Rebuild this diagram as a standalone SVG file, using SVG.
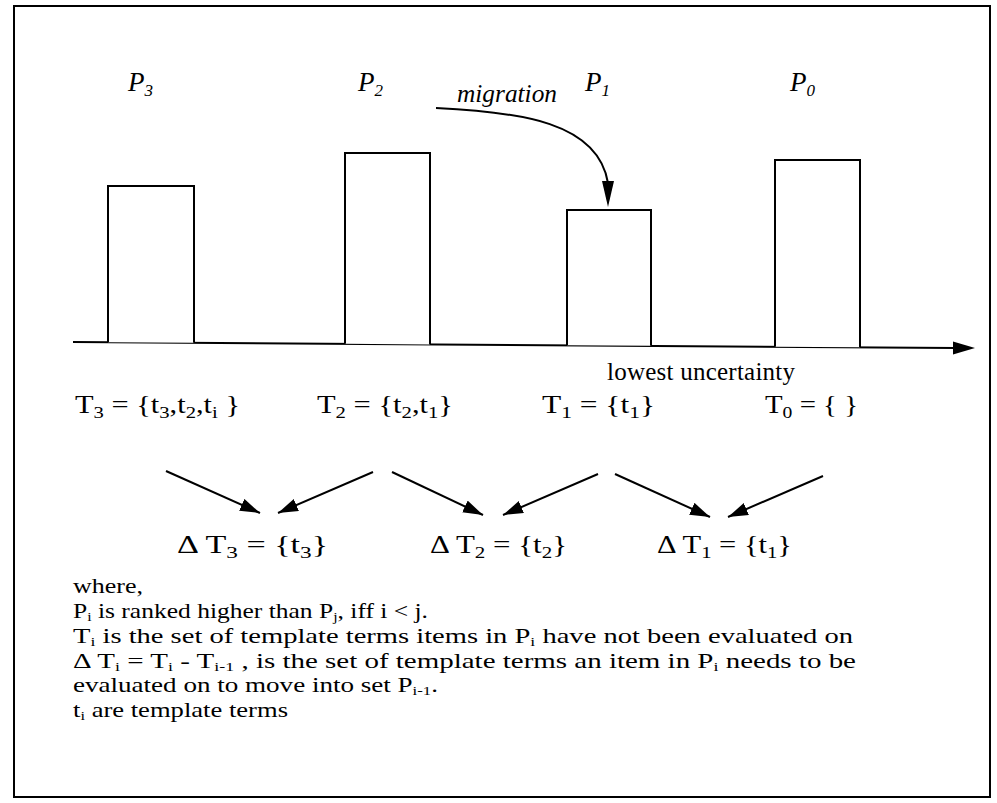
<svg xmlns="http://www.w3.org/2000/svg" width="997" height="803" viewBox="0 0 997 803">
<style>
  .ln{fill:none;stroke:#000;stroke-width:2}
  .bar{fill:#fff;stroke:#000;stroke-width:2}
  .t{font-family:"Liberation Serif","Times New Roman",serif;fill:#000}
  .it{font-style:italic}
  .lab{font-size:27px}
  .eq{font-size:25px}
  .note{font-size:21px}
</style>
<defs>
  <marker id="ah" markerUnits="userSpaceOnUse" markerWidth="22" markerHeight="14" refX="20" refY="6.5" orient="auto">
    <path d="M0,0 L20,6.5 L0,13 z" fill="#000"/>
  </marker>
</defs>
<rect x="14" y="6" width="976" height="791" class="ln"/>

<g id="axis">
  <line x1="73" y1="342" x2="956" y2="348" class="ln"/>
  <polygon points="953,341.5 975,348 953,354.5" fill="#000"/>
  <text class="t eq" x="607" y="380" textLength="188" lengthAdjust="spacing">lowest uncertainty</text>
</g>

<g id="P3">
  <path d="M108,342.2 V186 H194 V342.8" class="bar"/>
  <text class="t it lab" x="128" y="91">P<tspan dy="5" font-size="17">3</tspan></text>
</g>
<g id="P2">
  <path d="M345,343.8 V153 H430 V344.4" class="bar"/>
  <text class="t it lab" x="358" y="91">P<tspan dy="5" font-size="17">2</tspan></text>
</g>
<g id="P1">
  <path d="M567,345.3 V210 H651 V345.8" class="bar"/>
  <text class="t it lab" x="585" y="91">P<tspan dy="5" font-size="17">1</tspan></text>
</g>
<g id="P0">
  <path d="M775,346.7 V160 H860 V347.2" class="bar"/>
  <text class="t it lab" x="790" y="91">P<tspan dy="5" font-size="17">0</tspan></text>
</g>

<g id="migration">
  <path d="M436,108 C520,112 598,122 608,183" class="ln"/>
  <polygon points="602,181 614,181 608,207" fill="#000"/>
  <text class="t it eq" x="457" y="102" textLength="100" lengthAdjust="spacingAndGlyphs">migration</text>
</g>

<g id="T3"><text class="t eq" x="75" y="413" textLength="165" lengthAdjust="spacingAndGlyphs">T<tspan dy="5" font-size="17">3</tspan><tspan dy="-5"> = {t</tspan><tspan dy="5" font-size="17">3</tspan><tspan dy="-5">,t</tspan><tspan dy="5" font-size="17">2</tspan><tspan dy="-5">,t</tspan><tspan dy="5" font-size="17">i</tspan><tspan dy="-5"> }</tspan></text></g>
<g id="T2"><text class="t eq" x="317" y="413" textLength="136" lengthAdjust="spacingAndGlyphs">T<tspan dy="5" font-size="17">2</tspan><tspan dy="-5"> = {t</tspan><tspan dy="5" font-size="17">2</tspan><tspan dy="-5">,t</tspan><tspan dy="5" font-size="17">1</tspan><tspan dy="-5">}</tspan></text></g>
<g id="T1"><text class="t eq" x="542" y="413" textLength="113" lengthAdjust="spacingAndGlyphs">T<tspan dy="5" font-size="17">1</tspan><tspan dy="-5"> = {t</tspan><tspan dy="5" font-size="17">1</tspan><tspan dy="-5">}</tspan></text></g>
<g id="T0"><text class="t eq" x="765" y="413" textLength="93" lengthAdjust="spacingAndGlyphs">T<tspan dy="5" font-size="17">0</tspan><tspan dy="-5"> = { }</tspan></text></g>

<g id="dT3"><text class="t eq" x="177" y="553" textLength="151" lengthAdjust="spacingAndGlyphs">Δ T<tspan dy="5" font-size="17">3</tspan><tspan dy="-5"> = {t</tspan><tspan dy="5" font-size="17">3</tspan><tspan dy="-5">}</tspan></text></g>
<g id="dT2"><text class="t eq" x="430" y="553" textLength="137" lengthAdjust="spacingAndGlyphs">Δ T<tspan dy="5" font-size="17">2</tspan><tspan dy="-5"> = {t</tspan><tspan dy="5" font-size="17">2</tspan><tspan dy="-5">}</tspan></text></g>
<g id="dT1"><text class="t eq" x="657" y="553" textLength="135" lengthAdjust="spacingAndGlyphs">Δ T<tspan dy="5" font-size="17">1</tspan><tspan dy="-5"> = {t</tspan><tspan dy="5" font-size="17">1</tspan><tspan dy="-5">}</tspan></text></g>

<g id="connectors" class="ln" marker-end="url(#ah)">
  <line x1="166" y1="471" x2="260" y2="513"/>
  <line x1="373" y1="472" x2="278" y2="513"/>
  <line x1="392" y1="472" x2="483" y2="515"/>
  <line x1="598" y1="474" x2="503" y2="515"/>
  <line x1="615" y1="474" x2="710" y2="517"/>
  <line x1="823" y1="476" x2="728" y2="517"/>
</g>

<g id="notes">
  <text class="t note" x="73" y="593" textLength="70" lengthAdjust="spacingAndGlyphs">where,</text>
  <text class="t note" x="73" y="618" textLength="355" lengthAdjust="spacingAndGlyphs">P<tspan dy="3" font-size="13">i</tspan><tspan dy="-3"> is ranked higher than P</tspan><tspan dy="3" font-size="13">j</tspan><tspan dy="-3">, iff i &lt; j.</tspan></text>
  <text class="t note" x="73" y="643" textLength="780" lengthAdjust="spacingAndGlyphs">T<tspan dy="3" font-size="13">i</tspan><tspan dy="-3"> is the set of template terms items in P</tspan><tspan dy="3" font-size="13">i</tspan><tspan dy="-3"> have not been evaluated on</tspan></text>
  <text class="t note" x="73" y="668" textLength="783" lengthAdjust="spacingAndGlyphs">Δ T<tspan dy="3" font-size="13">i</tspan><tspan dy="-3"> = T</tspan><tspan dy="3" font-size="13">i</tspan><tspan dy="-3"> - T</tspan><tspan dy="3" font-size="13">i-1</tspan><tspan dy="-3"> , is the set of template terms an item in P</tspan><tspan dy="3" font-size="13">i</tspan><tspan dy="-3"> needs to be</tspan></text>
  <text class="t note" x="73" y="692" textLength="365" lengthAdjust="spacingAndGlyphs">evaluated on to move into set P<tspan dy="3" font-size="13">i-1</tspan><tspan dy="-3">.</tspan></text>
  <text class="t note" x="73" y="717" textLength="215" lengthAdjust="spacingAndGlyphs">t<tspan dy="3" font-size="13">i</tspan><tspan dy="-3"> are template terms</tspan></text>
</g>
</svg>
